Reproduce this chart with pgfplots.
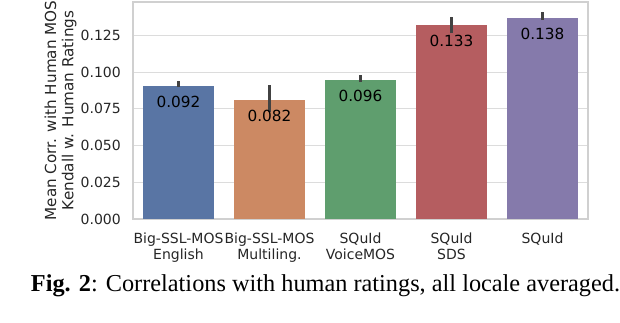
\documentclass[border=0pt]{standalone}
\usepackage{fontspec}
\setmainfont{DejaVu Sans}
\newfontfamily\capfont{Liberation Serif}
\usepackage{pgfplots}
\pgfplotsset{compat=1.18}

\definecolor{cblue}{HTML}{5975A4}
\definecolor{corange}{HTML}{CC8963}
\definecolor{cgreen}{HTML}{5F9E6E}
\definecolor{cred}{HTML}{B55D60}
\definecolor{cpurple}{HTML}{857AAB}
\definecolor{errc}{HTML}{424242}
\definecolor{gridc}{HTML}{DCDCDC}
\definecolor{framec}{HTML}{D0D0D0}
\definecolor{txt}{HTML}{262626}

% one bar per model, asymmetric CI as error bars
\pgfplotsset{
  onebar/.style={ybar, bar shift=0pt, bar width=0.79, draw=none, fill=#1,
    error bars/y dir=both, error bars/y explicit, error bars/error mark=none,
    error bars/error bar style={line width=2.7pt, color=errc}},
}

\begin{document}
\begin{tikzpicture}
\useasboundingbox (-133pt,-103pt) rectangle (487pt,219pt);
\begin{axis}[
  at={(0pt,0pt)}, anchor=south west,
  scale only axis, width=455pt, height=217pt,
  xmin=-0.5, xmax=4.5, ymin=0, ymax=0.1478,
  xtick={0,1,2,3,4},
  xticklabels={{Big-SSL-MOS\\English},{Big-SSL-MOS\\Multiling.},{SQuId\\VoiceMOS},{SQuId\\SDS},{SQuId}},
  ytick={0,0.025,0.05,0.075,0.1,0.125},
  scaled y ticks=false,
  /pgf/number format/fixed, /pgf/number format/fixed zerofill,
  /pgf/number format/precision=3, /pgf/number format/assume math mode=true,
  major tick length=0pt,
  ymajorgrids, grid style={gridc, line width=1.2pt},
  axis line style={framec, line width=1.2pt},
  xticklabel style={font=\fontsize{14}{16.2}\selectfont, text=txt, align=center,
    anchor=north, inner sep=0pt, yshift=-13.2pt},
  yticklabel style={font=\fontsize{14}{16.2}\selectfont, text=txt,
    anchor=east, inner sep=0pt, xshift=-12pt},
  ylabel={Mean Corr. with Human MOS\\Kendall w. Human Ratings},
  ylabel style={font=\fontsize{15.2}{17.3}\selectfont, text=txt, align=center,
    at={(axis description cs:-0.1235,0.5)}, anchor=south, inner sep=0pt},
  every node near coord/.append style={anchor=north, yshift=-10pt, inner sep=0pt,
    font=\fontsize{15.3}{18}\selectfont, text=black},
]
\addplot[onebar=cblue, nodes near coords={0.092}]
  coordinates {(0,0.0909) += (0,0.0032) -= (0,0.0004)};
\addplot[onebar=corange, nodes near coords={0.082}]
  coordinates {(1,0.0810) += (0,0.0102) -= (0,0.0080)};
\addplot[onebar=cgreen, nodes near coords={0.096}]
  coordinates {(2,0.0946) += (0,0.0034) -= (0,0.0012)};
\addplot[onebar=cred, nodes near coords={0.133}]
  coordinates {(3,0.1320) += (0,0.0056) -= (0,0.0053)};
\addplot[onebar=cpurple, nodes near coords={0.138}]
  coordinates {(4,0.1367) += (0,0.0043) -= (0,0.0009)};
\end{axis}
\node[anchor=base, font=\capfont\fontsize{24.3}{28}\selectfont, text=black]
  at (192.5pt,-72.7pt) {\textbf{Fig. 2}: Correlations with human ratings, all locale averaged.};
\end{tikzpicture}
\end{document}
